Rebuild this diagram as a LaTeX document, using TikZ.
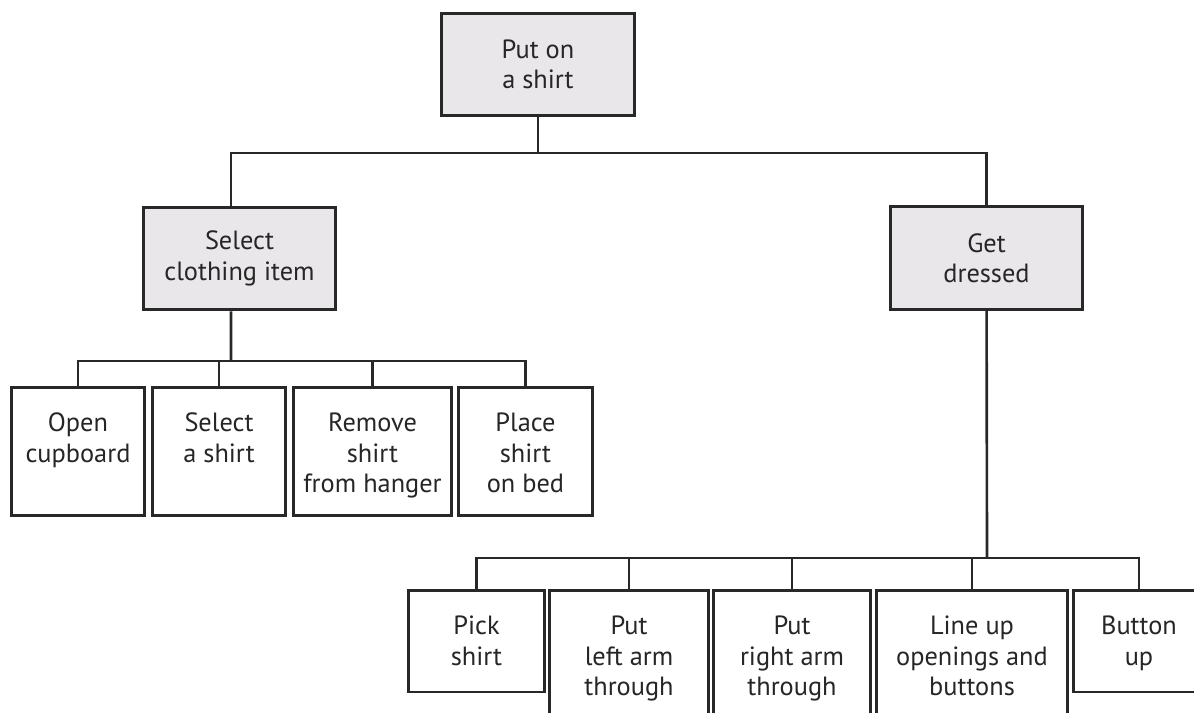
\documentclass[tikz,border=0pt]{standalone}
\usepackage{fontspec}
\setmainfont{PT Sans}
\definecolor{boxgray}{RGB}{233,231,233}
\definecolor{inkgray}{RGB}{40,40,40}
% text of a white box sits at the top of the box
\newcommand{\steptext}[3]{\parbox[c][#1][t]{#2}{\centering\rule{0pt}{25.5pt}#3}}
\begin{document}
\begin{tikzpicture}[x=0.02cm, y=-0.02cm]
        \tikzset{
          task/.style={draw=inkgray, line width=1.7pt, fill=boxgray, align=center,
                       minimum width=3.86cm, minimum height=2.06cm, inner sep=0pt},
          stepbox/.style={draw=inkgray, line width=1.7pt, fill=white, inner sep=0pt},
          link/.style={draw=inkgray, line width=1.5pt}
        }
        \useasboundingbox (0,0) rectangle (1194,713);
        \fontsize{15}{17.2}\selectfont
        \color{black!85}

        \node[task] (top) at (538,64.5) {Put on\\a shirt};

        \node[task] (sel) at (239.5,258.5) {Select\\clothing item};
        \node[task] (get) at (986.5,258) {Get\\dressed};

        \node[stepbox] (oc)  at (78,451.5)  {\steptext{2.58cm}{2.68cm}{Open\\cupboard}};
        \node[stepbox] (sas) at (219,451.5) {\steptext{2.58cm}{2.68cm}{Select\\a shirt}};
        \node[stepbox] (rem) at (372.5,451.5) {\steptext{2.58cm}{3.18cm}{Remove\\shirt\\from hanger}};
        \node[stepbox] (plc) at (525.5,451.5) {\steptext{2.58cm}{2.70cm}{Place\\shirt\\on bed}};

        \node[stepbox] (pick) at (476.5,641) {\steptext{2.04cm}{2.74cm}{Pick\\shirt}};
        \node[stepbox] (larm) at (629,660)   {\steptext{2.8cm}{3.20cm}{Put\\left arm\\through}};
        \node[stepbox] (rarm) at (792,660)   {\steptext{2.8cm}{3.16cm}{Put\\right arm\\through}};
        \node[stepbox] (lineup) at (972,660) {\steptext{2.8cm}{3.84cm}{Line up\\openings and\\buttons}};
        \node[stepbox] (btn)  at (1139,641)  {\steptext{2.04cm}{2.64cm}{Button\\up}};

        \coordinate (b1) at (538,153);
        \coordinate (b2) at (231,361);
        \coordinate (b3) at (987,558);

        \path[link] (top) -- (b1);
        \path[link] ([xshift=-0.17cm]sel.north) |- (b1) -| (get.north);

        \path[link] ([xshift=-0.17cm]sel.south) -- (b2);
        \path[link] (oc.north) |- (b2) -| (plc.north);
        \path[link] (sas.north) -- (sas.north |- b2);
        \path[link] (rem.north) -- (rem.north |- b2);

        \path[link] (get) -- (b3);
        \path[link] (pick.north) |- (b3) -| (btn.north);
        \path[link] (larm.north) -- (larm.north |- b3);
        \path[link] (rarm.north) -- (rarm.north |- b3);
        \path[link] (lineup.north) -- (lineup.north |- b3);
    \end{tikzpicture}
\end{document}
